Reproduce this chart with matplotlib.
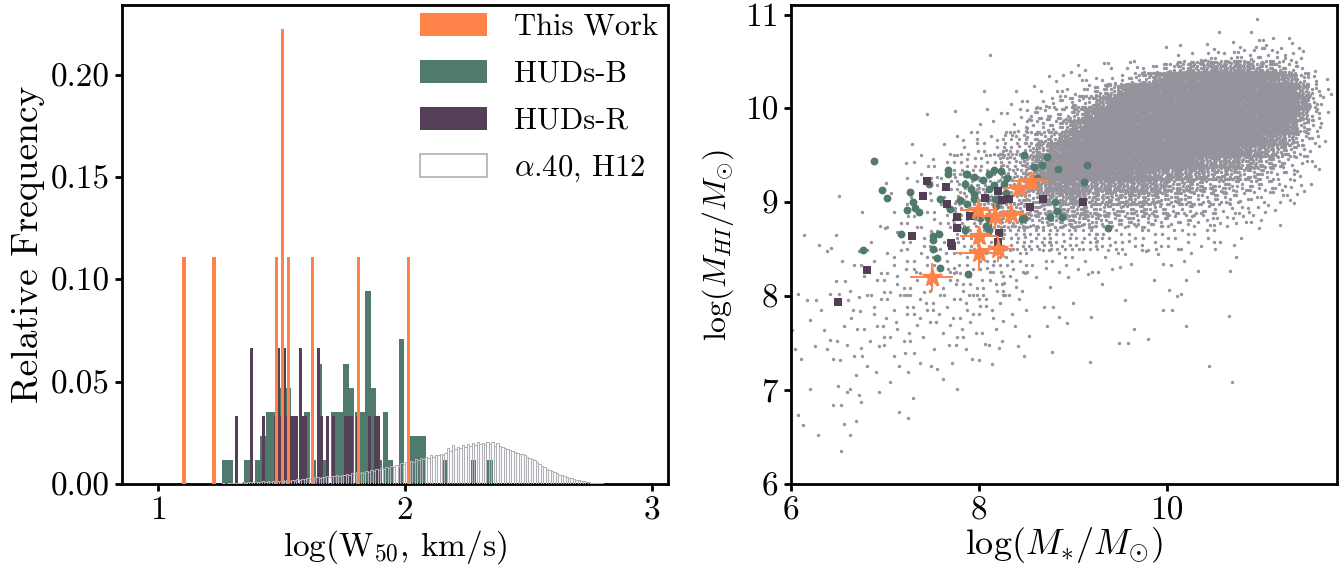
import numpy as np
import matplotlib
matplotlib.use('Agg')
import matplotlib.pyplot as plt
from matplotlib.patches import Patch

plt.rcParams['font.family'] = 'serif'
plt.rcParams['font.serif'] = ['cmr10', 'DejaVu Serif']
plt.rcParams['mathtext.fontset'] = 'cm'
plt.rcParams['axes.unicode_minus'] = False
plt.rcParams['axes.formatter.use_mathtext'] = True

# ---------------- Left panel data: histograms of log(W50) ----------------
# This Work (N = 9): bin centres and counts
tw_w50_centres = [1.105, 1.227, 1.480, 1.505, 1.529, 1.627, 1.811, 2.015]
tw_w50_counts = [1, 1, 1, 2, 1, 1, 1, 1]
tw_total = 9

# HUDs-B (N = 85): bin left edges and counts
hudsb_w50_edges = [1.258, 1.280, 1.348, 1.392, 1.414, 1.438, 1.462, 1.492, 1.516,
                   1.545, 1.569, 1.593, 1.618, 1.642, 1.666, 1.702, 1.725, 1.749,
                   1.773, 1.797, 1.818, 1.840, 1.862, 1.885, 1.909, 1.931, 1.975,
                   2.020, 2.042, 2.064, 2.151, 2.266, 2.333]
hudsb_w50_counts = [1, 1, 1, 1, 2, 3, 3, 4, 4, 2, 2, 3, 1, 5, 1, 3, 3, 5, 4, 3, 3,
                    8, 4, 1, 3, 1, 6, 2, 2, 2, 1, 1, 1]
hudsb_total = 85

# HUDs-R (N = 30): bin left edges and counts
hudsr_w50_edges = [1.311, 1.373, 1.422, 1.471, 1.483, 1.495, 1.508, 1.520, 1.532,
                   1.544, 1.556, 1.569, 1.581, 1.593, 1.642, 1.654, 1.679, 1.703,
                   1.752, 1.764, 1.776, 1.801, 1.850, 1.874, 1.886]
hudsr_w50_counts = [1, 2, 1, 1, 2, 1, 2, 1, 1, 1, 1, 2, 1, 1, 2, 1, 1, 1, 1, 1, 1,
                    1, 1, 1, 1]
hudsr_total = 30

# alpha.40, H12: relative frequency (x 1e-3) in bins of 0.01 starting at 1.25
a40_start = 1.25
a40_freq_permil = [
    0.2, 0.3, 0.2, 0.4, 0.3, 0.5, 0.4, 0.6, 0.5, 0.7,
    0.6, 0.8, 0.7, 1.0, 0.8, 1.1, 0.9, 1.2, 1.0, 1.3,
    1.1, 1.4, 1.2, 1.6, 1.3, 1.7, 1.5, 1.9, 1.6, 2.1,
    1.8, 2.3, 2.0, 2.6, 2.2, 2.9, 2.4, 3.2, 2.7, 3.4,
    3.0, 3.6, 3.2, 3.9, 3.4, 4.1, 3.7, 4.4, 3.9, 4.6,
    4.2, 4.9, 4.5, 5.3, 4.8, 5.6, 5.1, 6.0, 5.5, 6.3,
    5.9, 6.8, 6.3, 7.3, 6.8, 7.8, 7.2, 8.3, 7.7, 8.8,
    8.3, 9.4, 8.9, 10.1, 9.6, 10.8, 10.2, 11.4, 10.9, 12.0,
    11.5, 12.6, 12.1, 13.2, 12.8, 13.9, 13.4, 14.3, 13.9, 14.6,
    14.2, 15.0, 17.8, 16.3, 18.8, 16.9, 18.2, 17.5, 19.0, 18.1,
    19.6, 18.7, 20.0, 19.2, 20.4, 19.5, 20.1, 19.3, 20.6, 19.6,
    20.3, 18.5, 19.9, 18.4, 18.0, 17.5, 17.2, 16.8, 16.2, 15.8,
    15.3, 14.8, 14.6, 13.9, 13.3, 12.8, 12.3, 11.5, 10.6, 9.7,
    8.9, 8.2, 7.4, 6.8, 6.2, 5.7, 5.1, 4.6, 4.2, 3.8,
    3.4, 3.0, 2.7, 2.3, 2.0, 1.7, 1.4, 1.2, 1.0, 0.8,
    0.6, 0.5, 0.4, 0.3, 0.25, 0.2, 0.15, 0.1, 0.1, 0.05]

# ---------------- Right panel data ----------------
hudsb_mstar = [6.89, 6.97, 7.03, 7.27, 7.30, 7.24, 7.32, 7.37, 7.17, 6.77, 7.47,
               7.59, 7.67, 7.67, 7.70, 7.51, 7.52, 7.58, 7.52, 7.56, 7.59, 7.88,
               7.95, 7.86, 7.92, 7.95, 7.95, 7.80, 7.88, 7.86, 7.89, 8.05, 8.11,
               8.16, 8.24, 8.11, 8.16, 8.27, 8.20, 8.10, 8.10, 8.11, 8.02, 7.96,
               8.29, 8.48, 8.59, 8.67, 8.73, 8.85, 8.62, 9.12, 9.15, 8.81, 8.83,
               8.76, 8.89, 8.48, 8.46, 9.38, 8.08, 8.17, 8.18, 8.08, 8.30, 7.87]
hudsb_mhi = [9.44, 9.13, 9.05, 9.11, 9.00, 8.92, 8.94, 8.90, 8.66, 8.49, 9.19,
             9.04, 9.34, 9.30, 8.93, 8.64, 8.60, 8.66, 8.50, 8.41, 8.30, 9.30,
             9.27, 9.19, 9.14, 9.09, 9.03, 9.02, 8.98, 8.71, 8.24, 9.24, 9.30,
             9.34, 9.33, 9.14, 9.18, 9.20, 9.03, 8.83, 8.76, 8.70, 8.83, 8.87,
             9.10, 9.50, 9.38, 9.40, 9.48, 9.35, 9.26, 9.22, 9.40, 9.00, 8.91,
             8.84, 8.84, 8.83, 8.82, 8.73, 9.05, 9.03, 8.96, 8.75, 9.26, 9.30]

hudsr_mstar = [6.50, 6.81, 7.29, 7.41, 7.45, 7.65, 7.66, 7.77, 7.77, 7.71, 7.72,
               7.91, 8.07, 8.21, 8.25, 8.32, 8.22, 8.21, 8.55, 8.69, 9.11]
hudsr_mhi = [7.94, 8.28, 8.64, 9.07, 9.23, 9.16, 8.98, 8.84, 8.73, 8.57, 8.53,
             8.85, 9.05, 9.12, 9.02, 9.04, 8.67, 8.58, 8.95, 9.04, 9.00]

tw_mstar = [7.50, 8.00, 8.00, 8.21, 7.99, 8.17, 8.35, 8.43, 8.56]
tw_mhi = [8.20, 8.46, 8.64, 8.50, 8.92, 8.85, 8.88, 9.15, 9.23]
tw_mstar_err = [0.23, 0.25, 0.20, 0.17, 0.19, 0.18, 0.17, 0.17, 0.19]
tw_mhi_err = [0.15, 0.19, 0.11, 0.14, 0.11, 0.14, 0.10, 0.08, 0.09]

# Coarse 0.25-dex cells: log M* 6.00..11.75 (columns), log MHI 11.0 -> 6.25 (rows).
# (cells inside the fine window below are given by the fine table instead)
a40_mstar_lo, a40_mhi_hi, a40_cell = 6.0, 11.0, 0.25
a40_cell_counts = [
    [0,0,0,0,0,0,0,0,0,0,0,0,0,0,0,0,0,0,1,2,0,0,0],
    [0,0,0,0,0,0,0,0,1,0,0,0,0,0,0,0,0,0,0,0,0,0,0],
    [0,0,0,0,0,0,0,0,0,0,0,0,0,0,0,0,0,0,0,0,0,0,0],
    [0,0,0,0,0,0,0,0,1,3,0,0,0,0,0,0,0,0,0,0,0,0,0],
    [0,0,0,0,0,1,0,1,4,8,0,0,0,0,0,0,0,0,0,0,0,0,0],
    [0,0,0,0,0,1,2,7,10,25,0,0,0,0,0,0,0,0,0,0,0,0,0],
    [0,0,0,0,1,5,6,15,15,35,0,0,0,0,0,0,0,0,0,0,0,0,0],
    [0,0,1,0,2,5,8,25,25,40,0,0,0,0,0,0,0,0,0,0,0,0,0],
    [0,0,0,2,4,6,10,22,20,35,0,0,0,0,0,0,0,0,0,0,0,0,0],
    [1,3,0,1,3,5,6,15,15,20,20,20,18,15,12,10,8,6,4,2,0,0,0],
    [0,1,3,4,6,8,9,10,14,10,6,6,5,4,3,3,4,1,2,0,0,0,0],
    [1,2,3,4,6,7,8,9,10,8,1,2,1,1,0,1,3,0,0,0,0,0,0],
    [1,2,3,5,6,7,7,8,6,4,1,2,2,0,1,1,2,0,1,0,0,0,0],
    [2,2,4,5,5,5,5,5,5,1,2,1,0,1,2,1,1,0,0,0,0,0,0],
    [2,3,4,3,3,3,2,2,4,2,0,1,1,0,0,0,0,1,0,0,0,0,0],
    [1,0,3,1,2,0,2,1,0,0,0,0,0,0,0,0,0,0,1,0,0,0,0],
    [0,1,3,2,1,1,0,0,0,0,0,0,0,0,0,0,0,0,0,0,0,0,0],
    [2,1,3,0,1,0,0,0,0,0,0,0,0,0,0,0,0,0,0,0,0,0,0],
    [0,0,1,0,0,0,0,0,0,0,0,0,0,0,0,0,0,0,0,0,0,0,0],
]
# Fine 0.125-dex cells over the dense ridge: log M* 8.5..11.75, log MHI 10.75 -> 8.75.
# One character per cell, giving a density level (see a40_level_counts).
a40_fine_mstar_lo, a40_fine_mhi_hi, a40_fine_cell = 8.5, 10.75, 0.125
a40_level_keys = "0123456789A"
a40_level_counts = [0, 1, 2, 3, 5, 8, 12, 18, 28, 40, 52]
a40_fine_rows = [
    "00000000000101011112212100",
    "00000000000010233334443200",
    "00011112233467788887765310",
    "011122334679AAAAAAAAA98631",
    "112334579AAAAAAAAAAAAAA852",
    "2344568AAAAAAAAAAAAAAAA952",
    "444579AAAAAAAAAAAAAAAAA851",
    "44579AAAAAAAAAAAAAAAAA9641",
    "5679AAAAAAAAAAAAAAAA987531",
    "679AAAAAAAAAAAAAAA98876420",
    "79AAAAAAAAAAAA988877654320",
    "79AAAAAAA99888877766544210",
    "78999888888877766655443210",
    "67788777777666555443322100",
    "66677666666555444332211000",
    "56666655555444433322110000",
]

# ---------------- Styles ----------------
C_TW = '#FF8348'
C_B = '#4F7A6D'
C_R = '#534057'
C_GREY = '#97939c'
C_A40 = '#b2afb6'

fig = plt.figure(figsize=(13.43, 5.70), dpi=100)
ax1 = fig.add_axes([0.0908, 0.151, 0.4066, 0.840])
ax2 = fig.add_axes([0.5887, 0.151, 0.4066, 0.840])

# ---- Left panel ----
ax1.bar(hudsb_w50_edges, np.array(hudsb_w50_counts) / hudsb_total, width=0.0225,
        align='edge', color=C_B, zorder=1)
ax1.bar(hudsr_w50_edges, np.array(hudsr_w50_counts) / hudsr_total, width=0.0122,
        align='edge', color=C_R, zorder=2)
a40_edges = a40_start + 0.01 * np.arange(len(a40_freq_permil))
ax1.bar(a40_edges, np.array(a40_freq_permil) / 1000.0, width=0.01, align='edge',
        fill=False, edgecolor=C_A40, linewidth=0.75, zorder=3)
ax1.bar(tw_w50_centres, np.array(tw_w50_counts) / tw_total, width=0.013,
        color=C_TW, zorder=4)

ax1.set_xlim(0.854, 3.065)
ax1.set_ylim(0, 0.234)
ax1.set_xticks([1, 2, 3])
ax1.set_xticklabels(['1', '2', '3'])
ax1.set_yticks([0, 0.05, 0.10, 0.15, 0.20])
ax1.set_yticklabels(['0.00', '0.05', '0.10', '0.15', '0.20'])
ax1.set_xlabel(r'log(W$_{50}$, km/s)', fontsize=24, labelpad=2)
ax1.set_ylabel('Relative Frequency', fontsize=27, labelpad=4)

handles = [Patch(facecolor=C_TW, edgecolor='none'),
           Patch(facecolor=C_B, edgecolor='none'),
           Patch(facecolor=C_R, edgecolor='none'),
           Patch(facecolor='white', edgecolor=C_A40, linewidth=1.2)]
labels = ['This Work', 'HUDs-B', 'HUDs-R', r'$\alpha$.40, H12']
ax1.legend(handles, labels, loc='upper right', bbox_to_anchor=(0.991, 0.994),
           frameon=False, fontsize=22,
           handlelength=2.22, handleheight=0.78, handletextpad=0.88,
           labelspacing=0.62, borderaxespad=0.05, borderpad=0.1)

# ---- Right panel ----
g = 1.32471795724474602596
a1, a2 = 1.0 / g, 1.0 / g ** 2


def cell_points(count_grid, x_lo, y_hi, size, spread):
    xs, ys = [], []
    for i in range(count_grid.shape[0]):
        for j in range(count_grid.shape[1]):
            n = count_grid[i, j]
            if n == 0:
                continue
            k = np.arange(n) + 1
            off = 0.37 * i + 0.61 * j
            u = (0.5 + off + k * a1) % 1.0
            v = (0.5 + 0.7 * off + k * a2) % 1.0
            if n > 3:
                u = 0.5 + (u - 0.5) * spread
                v = 0.5 + (v - 0.5) * spread
            xs.append(x_lo + size * (j + u))
            ys.append(y_hi - size * (i + v))
    return np.concatenate(xs), np.concatenate(ys)


coarse = np.array(a40_cell_counts)
fine = np.array([[a40_level_counts[a40_level_keys.index(ch)] for ch in row]
                 for row in a40_fine_rows])
xc, yc = cell_points(coarse, a40_mstar_lo, a40_mhi_hi, a40_cell, 1.15)
xf, yf = cell_points(fine, a40_fine_mstar_lo, a40_fine_mhi_hi, a40_fine_cell, 1.3)
grey = ax2.scatter(np.concatenate([xc, xf]), np.concatenate([yc, yf]), s=6,
                   color=C_GREY, linewidths=0, zorder=1)
grey.set_snap(False)

ax2.scatter(hudsb_mstar, hudsb_mhi, s=32, color=C_B, linewidths=0, zorder=2)
ax2.scatter(hudsr_mstar, hudsr_mhi, s=28, marker='s', color=C_R, linewidths=0, zorder=3)
ax2.errorbar(tw_mstar, tw_mhi, xerr=tw_mstar_err, yerr=tw_mhi_err, fmt='*',
             color=C_TW, ms=15, elinewidth=1.4, capsize=0, zorder=4)

ax2.set_xlim(6, 11.81)
ax2.set_ylim(6, 11.10)
ax2.set_xticks([6, 8, 10])
ax2.set_xticklabels(['6', '8', '10'])
ax2.set_yticks([6, 7, 8, 9, 10, 11])
ax2.set_yticklabels(['6', '7', '8', '9', '10', '11'])
ax2.set_xlabel(r'$\log(M_{*}/M_{\odot})$', fontsize=26, labelpad=0)
ax2.set_ylabel(r'$\log(M_{HI}/M_{\odot})$', fontsize=23, labelpad=6)

for ax in (ax1, ax2):
    for sp in ax.spines.values():
        sp.set_linewidth(2.0)
    ax.tick_params(axis='both', direction='out', length=5, width=2.0,
                   labelsize=24, top=False, right=False, pad=4)

fig.savefig('out.png', dpi=100)
